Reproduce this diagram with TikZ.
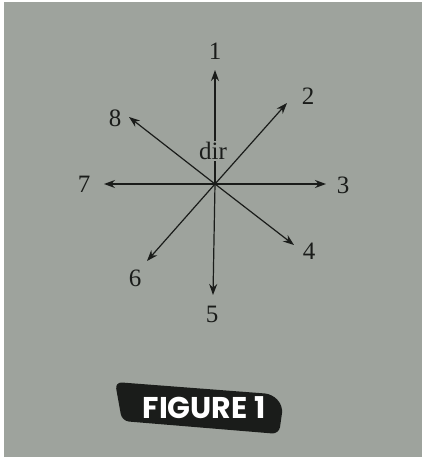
\documentclass[tikz,border=0pt]{standalone}
\usepackage{fontspec}
\setmainfont{Liberation Serif}
\newfontfamily\TabFont{Poppins}
\usetikzlibrary{arrows.meta}
\definecolor{pagegray}{HTML}{9EA39D}
\definecolor{inkblack}{HTML}{1A1C1A}
\newcommand{\LabelFont}{\fontsize{25}{28}\selectfont}
\newcommand{\Ray}[3]{%
  \coordinate (tip#1) at (#2);
  \node[raylabel] (lab#1) at (#3) {#1};
  \draw[ray] (c) -- (tip#1);
}

\begin{document}
\begin{tikzpicture}[x=1pt,y=-1pt,
  ray/.style={draw=inkblack,line width=1.2pt,-{Stealth[length=11pt,width=8pt]}},
  raylabel/.style={font=\LabelFont,text=inkblack,inner sep=0pt}]
  \useasboundingbox (0,0) rectangle (422,457);
  \fill[white] (0,0) rectangle (422,457);
  \fill[pagegray] (4,2) rectangle (422,457);
  \coordinate (c) at (215,184);
  \Ray{1}{215,70}{215,51}
  \Ray{2}{287,103}{308,96}
  \Ray{3}{326,184}{343,185}
  \Ray{4}{294,245}{309,251}
  \Ray{5}{213,295}{212,314}
  \Ray{6}{147,261}{135,278}
  \Ray{7}{104,184}{84,184}
  \Ray{8}{129,117}{115,118}
  \node[raylabel,fill=pagegray,inner sep=1.5pt] (dir) at (213,151) {dir};
  % figure tab
  \fill[inkblack,rounded corners=7pt] (115,382) -- (272,394) -- (283,406)
    -- (279,434) -- (122,421) -- cycle;
  \node[font=\TabFont\bfseries\fontsize{30}{32}\selectfont,text=white,inner sep=0pt]
    (tab) at (204,408) {FIGURE 1};
\end{tikzpicture}
\end{document}
